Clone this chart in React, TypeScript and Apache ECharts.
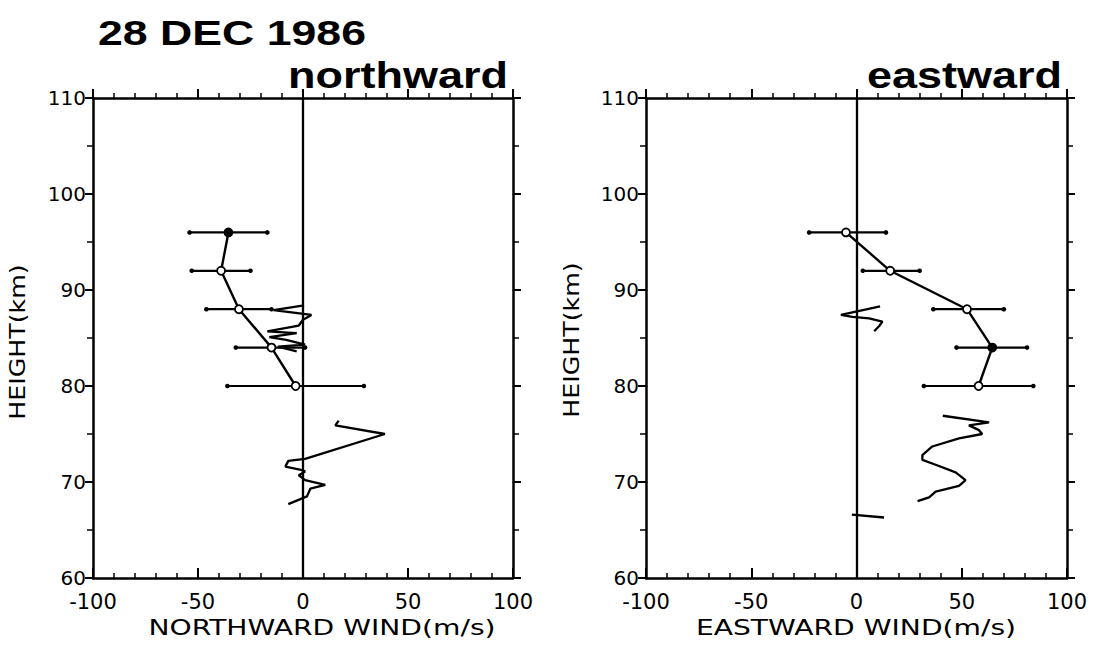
import React, { useEffect, useRef } from "react";
import * as echarts from "echarts";

// ---- data ----
const heights = [96, 92, 88, 84, 80];
const northMean = [-35.5, -39, -30.5, -15, -3.5];
const northLo = [-54, -53, -46, -32, -36];
const northHi = [-17, -25, -15, 1, 29];
const northFilled = [true, false, false, false, false];

const eastMean = [-5, 16, 52.5, 64.5, 58];
const eastLo = [-22.5, 3, 36.5, 47.5, 32];
const eastHi = [14, 30, 70, 81, 84];
const eastFilled = [false, false, false, true, false];

const northUpper = [
  [0.5, 88.4], [-14, 87.9], [4, 87.4], [0, 86.9], [-2, 86.3], [-17, 85.7],
  [-3, 85.5], [-16, 85.1], [-8, 84.8], [1, 84.3], [-12, 84.1], [-3, 83.6],
];
const northLower = [
  [17, 76.4], [15.4, 75.9], [39, 75.0], [1, 72.4], [-7, 72.2], [-8.4, 71.6],
  [-1.5, 71.3], [1, 71.1], [-2, 70.7], [1, 70.2], [10.6, 69.7], [3.5, 69.3],
  [1.9, 68.5], [-7, 67.7],
];
const eastUpper = [
  [11.2, 88.3], [-7.4, 87.4], [-1.9, 87.2], [6, 87.05], [12.3, 86.7],
  [10.8, 86.25], [8.4, 85.7],
];
const eastLower = [
  [41, 76.9], [63, 76.2], [53.4, 75.9], [58.2, 75.4], [59.7, 75.0],
  [48.7, 74.55], [36, 73.7], [31.3, 72.8], [31.3, 72.3], [37.6, 71.8],
  [47.1, 71.0], [51.8, 70.2], [48.7, 69.6], [37.6, 69.0], [34.5, 68.4],
  [29, 68.0],
];
const eastBottom = [[-2.2, 66.6], [13.1, 66.3]];

const xTicks = { min: -100, max: 100, interval: 50 };
const yTicks = { min: 60, max: 110, interval: 10 };

const title = "28 DEC 1986";
const panelTitles = ["northward", "eastward"];
const xNames = ["NORTHWARD WIND(m/s)", "EASTWARD WIND(m/s)"];
const yName = "HEIGHT(km)";

export default function App() {
  const ref = useRef<HTMLDivElement>(null);
  useEffect(() => {
    if (!ref.current) return;
    const chart = echarts.init(ref.current, null, { renderer: "svg" });
    const black = "#000";
    const labelFont = '"DejaVu Sans", sans-serif';

    const grids = [
      { left: 93, top: 98, width: 420, height: 480 },
      { left: 646, top: 98, width: 421, height: 480 },
    ];

    const frameLine = { show: true, onZero: false, lineStyle: { color: black, width: 2.5 } };
    const xAxes: any[] = [];
    const yAxes: any[] = [];
    grids.forEach((g, i) => {
      xAxes.push({
        type: "value", gridIndex: i, position: "bottom", ...xTicks,
        axisLine: frameLine,
        axisTick: { show: true, inside: true, length: 10, lineStyle: { color: black, width: 2 } },
        minorTick: { show: true, splitNumber: 5, length: 5, lineStyle: { color: black, width: 1.5 } },
        splitLine: { show: false },
        axisLabel: { show: true, color: black, fontSize: 21, fontFamily: labelFont, margin: 13 },
      });
      xAxes.push({
        type: "value", gridIndex: i, position: "top", ...xTicks,
        axisLine: frameLine,
        axisTick: { show: true, inside: false, length: 9, lineStyle: { color: black, width: 2 } },
        minorTick: { show: true, splitNumber: 5, length: 5, lineStyle: { color: black, width: 1.5 } },
        splitLine: { show: false },
        axisLabel: { show: false },
      });
      yAxes.push({
        type: "value", gridIndex: i, position: "left", ...yTicks,
        axisLine: frameLine,
        axisTick: { show: true, inside: false, length: 8, lineStyle: { color: black, width: 2 } },
        minorTick: { show: true, splitNumber: 2, length: 6, lineStyle: { color: black, width: 1.5 } },
        splitLine: { show: false },
        axisLabel: { show: true, color: black, fontSize: 20, fontFamily: labelFont, margin: 7 },
      });
      yAxes.push({
        type: "value", gridIndex: i, position: "right", ...yTicks,
        axisLine: frameLine,
        axisTick: { show: true, inside: false, length: 8, lineStyle: { color: black, width: 2 } },
        minorTick: { show: true, splitNumber: 2, length: 6, lineStyle: { color: black, width: 1.5 } },
        splitLine: { show: false },
        axisLabel: { show: false },
      });
    });

    const profileSeries = (data: number[][], xi: number, yi: number) => ({
      type: "line", xAxisIndex: xi, yAxisIndex: yi, data,
      symbol: "none", smooth: false,
      lineStyle: { color: black, width: 2.3 }, z: 3,
    });

    const errSeries = (lo: number[], hi: number[], xi: number, yi: number) => ({
      type: "custom", xAxisIndex: xi, yAxisIndex: yi,
      data: heights.map((h, k) => [lo[k], hi[k], h]),
      encode: { x: [0, 1], y: 2 },
      renderItem: (params: any, api: any) => {
        const p1 = api.coord([api.value(0), api.value(2)]);
        const p2 = api.coord([api.value(1), api.value(2)]);
        return {
          type: "group",
          children: [
            { type: "line", shape: { x1: p1[0], y1: p1[1], x2: p2[0], y2: p2[1] }, style: { stroke: black, lineWidth: 2.2 } },
            { type: "circle", shape: { cx: p1[0], cy: p1[1], r: 2.3 }, style: { fill: black } },
            { type: "circle", shape: { cx: p2[0], cy: p2[1], r: 2.3 }, style: { fill: black } },
          ],
        };
      },
      z: 2,
    });

    const meanSeries = (mean: number[], filled: boolean[], xi: number, yi: number) => ({
      type: "line", xAxisIndex: xi, yAxisIndex: yi,
      data: heights.map((h, k) => ({
        value: [mean[k], h],
        itemStyle: { color: filled[k] ? black : "#fff", borderColor: black, borderWidth: 1.8 },
      })),
      symbol: "circle", symbolSize: 8,
      lineStyle: { color: black, width: 2.4 },
      z: 4,
      markLine: {
        silent: true, symbol: ["none", "none"], label: { show: false },
        lineStyle: { color: black, width: 2.3, type: "solid" },
        data: [{ xAxis: 0 }],
      },
    });

    const series: any[] = [
      errSeries(northLo, northHi, 0, 0),
      meanSeries(northMean, northFilled, 0, 0),
      profileSeries(northUpper, 0, 0),
      profileSeries(northLower, 0, 0),
      errSeries(eastLo, eastHi, 2, 2),
      meanSeries(eastMean, eastFilled, 2, 2),
      profileSeries(eastUpper, 2, 2),
      profileSeries(eastLower, 2, 2),
      profileSeries(eastBottom, 2, 2),
    ];

    const graphic: any[] = [
      {
        type: "text", x: 98, y: 51, scaleX: 1.24,
        style: { text: title, font: 'bold 36px "Liberation Sans"', fill: black, align: "left", verticalAlign: "bottom" },
      },
      {
        type: "text", x: 508, y: 94, scaleX: 1.25,
        style: { text: panelTitles[0], font: 'bold 36px "Liberation Sans"', fill: black, align: "right", verticalAlign: "bottom" },
      },
      {
        type: "text", x: 1062, y: 94, scaleX: 1.25,
        style: { text: panelTitles[1], font: 'bold 36px "Liberation Sans"', fill: black, align: "right", verticalAlign: "bottom" },
      },
      {
        type: "text", x: 322, y: 628, scaleX: 1.28,
        style: { text: xNames[0], font: '22px "DejaVu Sans"', fill: black, align: "center", verticalAlign: "middle" },
      },
      {
        type: "text", x: 856, y: 628, scaleX: 1.28,
        style: { text: xNames[1], font: '22px "DejaVu Sans"', fill: black, align: "center", verticalAlign: "middle" },
      },
      {
        type: "text", x: 18, y: 342, rotation: Math.PI / 2, scaleX: 1.15,
        style: { text: yName, font: '22px "DejaVu Sans"', fill: black, align: "center", verticalAlign: "middle" },
      },
      {
        type: "text", x: 572, y: 340, rotation: Math.PI / 2, scaleX: 1.15,
        style: { text: yName, font: '22px "DejaVu Sans"', fill: black, align: "center", verticalAlign: "middle" },
      },
    ];

    chart.setOption({
      animation: false,
      backgroundColor: "#fff",
      grid: grids,
      xAxis: xAxes,
      yAxis: yAxes,
      series,
      graphic,
    });
    return () => chart.dispose();
  }, []);
  return (
    <div
      ref={ref}
      style={{ position: "absolute", left: 0, top: 0, width: 1095, height: 646, background: "#fff" }}
    />
  );
}
